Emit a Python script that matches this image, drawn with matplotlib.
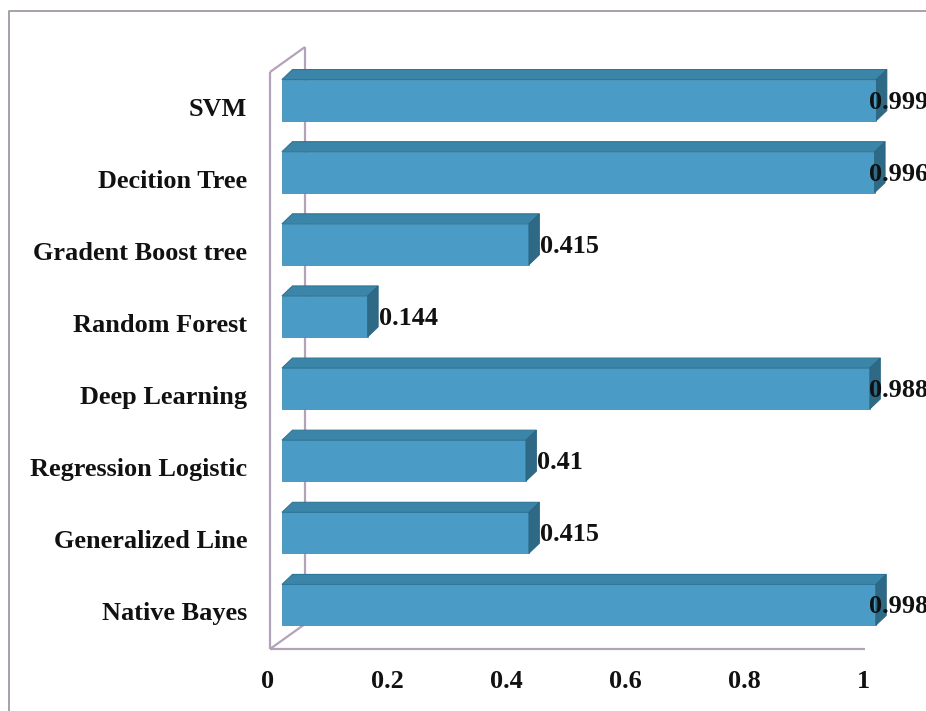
import matplotlib
matplotlib.use("Agg")
import matplotlib.pyplot as plt
from matplotlib.patches import Polygon, Rectangle
from matplotlib.lines import Line2D

# ---- data -------------------------------------------------------------
categories = ["Native Bayes", "Generalized Line", "Regression Logistic",
              "Deep Learning", "Random Forest", "Gradent Boost tree",
              "Decition Tree", "SVM"]
values = [0.998, 0.415, 0.41, 0.988, 0.144, 0.415, 0.996, 0.999]
value_labels = ["0.998", "0.415", "0.41", "0.988", "0.144", "0.415", "0.996", "0.999"]
x_ticks = [0, 0.2, 0.4, 0.6, 0.8, 1]
x_tick_labels = ["0", "0.2", "0.4", "0.6", "0.8", "1"]

# ---- style ------------------------------------------------------------
W, H, DPI = 926, 711, 100
FONT = dict(family="Liberation Serif", weight="bold", size=18.9, color="#111111")
FRONT = "#4a9bc5"
TOP = "#3b86a8"
SIDE = "#2e6a85"
WALL = "#b3a3b9"
FRAME = "#a79fa9"

fig = plt.figure(figsize=(W / DPI, H / DPI), dpi=DPI)
fig.patch.set_facecolor("white")

# axes spans the front plane of the 3-D box
left_px, right_px, top_px, bottom_px = 270, 865, 72, 649
ax = fig.add_axes([left_px / W, 1 - bottom_px / H,
                   (right_px - left_px) / W, (bottom_px - top_px) / H])
ax.set_xlim(0, 1)
ax.set_ylim(-0.5, len(categories) - 0.5)
ax.axis("off")

px_x = 1.0 / (right_px - left_px)              # data units per pixel (x)
px_y = len(categories) / (bottom_px - top_px)  # data units per pixel (y)

# depth offsets (pixels -> data units)
wall_dx, wall_dy = 35 * px_x, 25 * px_y      # full depth of the box
plane_dx, plane_dy = 12 * px_x, 8 * px_y     # plane where bar fronts sit
bar_dx, bar_dy = 10.5 * px_x, 10 * px_y      # depth of each bar
bar_h = 41 * px_y

y0, y1 = -0.5, len(categories) - 0.5

# walls and floor outline
wall_kw = dict(color=WALL, lw=1.6, clip_on=False, zorder=1, solid_capstyle="butt")
ax.plot([0, 0], [y0, y1], **wall_kw)
ax.plot([0, wall_dx], [y1, y1 + wall_dy], **wall_kw)
ax.plot([0, wall_dx], [y0, y0 + wall_dy], **wall_kw)
ax.plot([wall_dx, wall_dx], [y0 + wall_dy, y1 + wall_dy], **wall_kw)
ax.plot([0, 1], [y0, y0], **wall_kw)

# 3-D bars
for i, v in enumerate(values):
    xl = plane_dx
    xr = plane_dx + v
    yb = i + plane_dy - bar_h / 2
    yt = i + plane_dy + bar_h / 2
    ax.add_patch(Rectangle((xl, yb), v, bar_h, facecolor=FRONT,
                           edgecolor="#4290b8", lw=0.6, clip_on=False, zorder=3))
    ax.add_patch(Polygon([(xl, yt), (xr, yt), (xr + bar_dx, yt + bar_dy),
                          (xl + bar_dx, yt + bar_dy)], closed=True,
                         facecolor=TOP, edgecolor="#2f7597", lw=0.8,
                         clip_on=False, zorder=3))
    ax.add_patch(Polygon([(xr, yb), (xr, yt), (xr + bar_dx, yt + bar_dy),
                          (xr + bar_dx, yb + bar_dy)], closed=True,
                         facecolor=SIDE, edgecolor="#2a6580", lw=0.6,
                         clip_on=False, zorder=3))
    # value label just past the bar, kept inside the chart area
    lx = min(v + plane_dx + bar_dx + 1 * px_x, 1.006)
    ax.text(lx, i + plane_dy - 2 * px_y, value_labels[i], ha="left", va="center",
            zorder=5, clip_on=False, **FONT)

# category labels
for i, name in enumerate(categories):
    ax.text(-23 * px_x, i - 1 * px_y, name, ha="right", va="center",
            clip_on=False, **FONT)

# x tick labels
for t, lab in zip(x_ticks, x_tick_labels):
    ax.text(t - 2 * px_x, y0 - 33 * px_y, lab, ha="center", va="center",
            clip_on=False, **FONT)

# outer chart frame
fig.add_artist(Line2D([8.5 / W, 8.5 / W, 1.0], [0.0, 1 - 10.5 / H, 1 - 10.5 / H],
                      transform=fig.transFigure, color=FRAME, lw=1.4))

fig.savefig("out.png", dpi=DPI, facecolor="white")
